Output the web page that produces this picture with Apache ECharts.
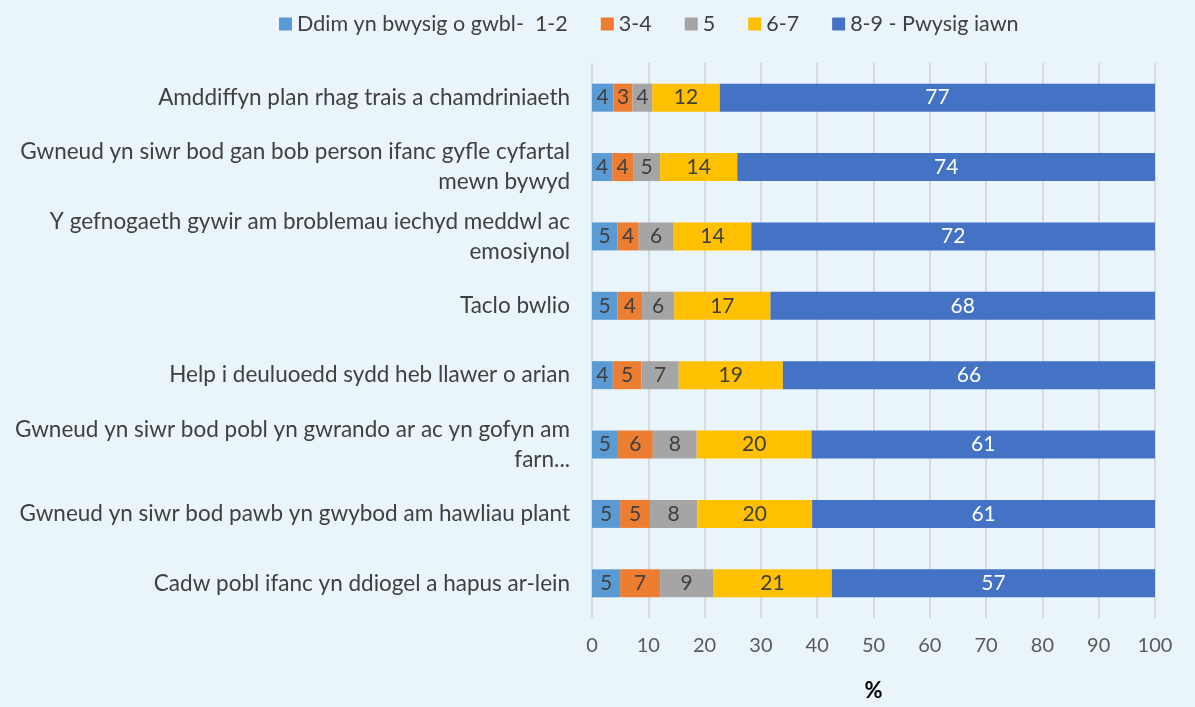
<!DOCTYPE html>
<html lang="cy">
<head>
    <meta charset="UTF-8">
    <title>Pwysigrwydd</title>
    <script src="https://cdn.jsdelivr.net/npm/echarts@6/dist/echarts.min.js"></script>
    <style>
        * { margin: 0; padding: 0 }
        html, body { width: 100%; height: 100%; background: #eaf4fb; }
        #main { width: 1195px; height: 707px; }
    </style>
</head>
<body>
<div id="main"></div>
<script type="text/javascript">
    // categories, top to bottom as in the picture
    var categories = [
        'Amddiffyn plan rhag trais a chamdriniaeth',
        'Gwneud yn siwr bod gan bob person ifanc gyfle cyfartal\nmewn bywyd',
        'Y gefnogaeth gywir am broblemau iechyd meddwl ac\nemosiynol',
        'Taclo bwlio',
        'Help i deuluoedd sydd heb llawer o arian',
        'Gwneud yn siwr bod pobl yn gwrando ar ac yn gofyn am\nfarn...',
        'Gwneud yn siwr bod pawb yn gwybod am hawliau plant',
        'Cadw pobl ifanc yn ddiogel a hapus ar-lein'
    ];
    var seriesNames = ['Ddim yn bwysig o gwbl-  1-2', '3-4', '5', '6-7', '8-9 - Pwysig iawn'];
    var v12 = [3.8, 3.6, 4.5, 4.5, 3.7, 4.6, 5.0, 5.0];
    var v34 = [3.4, 3.7, 3.8, 4.4, 5.1, 6.2, 5.3, 7.1];
    var v5  = [3.5, 4.8, 6.2, 5.7, 6.6, 7.8, 8.4, 9.4];
    var v67 = [12.0, 13.7, 13.8, 17.1, 18.5, 20.4, 20.4, 21.1];
    var v89 = [77.3, 74.2, 71.7, 68.3, 66.1, 61.0, 60.9, 57.4];
    var colors = ['#5b9bd5', '#ed7d31', '#a5a5a5', '#ffc000', '#4472c4'];
    var xTicks = [0, 10, 20, 30, 40, 50, 60, 70, 80, 90, 100];

    var font = 'Lato, "Open Sans", sans-serif';
    var allData = [v12, v34, v5, v67, v89];

    var series = allData.map(function (vals, i) {
        return {
            name: seriesNames[i],
            type: 'bar',
            stack: 'total',
            barWidth: 28,
            data: vals,
            itemStyle: { color: colors[i] },
            label: {
                show: true,
                position: 'inside',
                fontFamily: font,
                fontSize: 21,
                color: i === 4 ? '#ffffff' : '#404040',
                formatter: function (p) { return Math.round(p.value); }
            }
        };
    });

    var chart = echarts.init(document.getElementById('main'));
    chart.setOption({
        backgroundColor: '#eaf4fb',
        animation: false,
        textStyle: { fontFamily: font },
        legend: {
            top: 8,
            left: 274,
            itemWidth: 13,
            itemHeight: 13,
            itemGap: 33,
            icon: 'rect',
            textStyle: { fontSize: 21.5, color: '#404040', fontFamily: font },
            data: seriesNames
        },
        grid: { left: 592, right: 40, top: 63, bottom: 83, containLabel: false },
        xAxis: {
            type: 'value',
            min: 0,
            max: 100,
            interval: 10,
            name: '%',
            nameLocation: 'middle',
            nameGap: 62,
            nameTextStyle: { fontSize: 22, fontWeight: 'bold', color: '#000', fontFamily: font },
            axisLine: { show: false },
            axisTick: { show: false },
            splitLine: { lineStyle: { color: '#d9d9d9', width: 2 } },
            axisLabel: {
                fontSize: 20, color: '#595959', margin: 18,
                formatter: function (v) { return xTicks.indexOf(v) >= 0 ? String(v) : ''; }
            }
        },
        yAxis: {
            type: 'category',
            inverse: true,
            data: categories,
            axisLine: { show: false },
            axisTick: { show: false },
            axisLabel: {
                fontSize: 22.5, color: '#404040', margin: 22, lineHeight: 30,
                align: 'right', fontFamily: font
            }
        },
        series: series
    });
</script>
</body>
</html>
